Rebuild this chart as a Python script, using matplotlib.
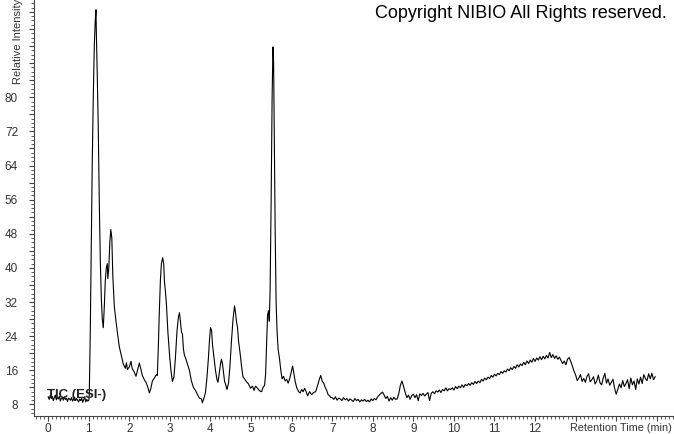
import numpy as np
import matplotlib
matplotlib.use("Agg")
import matplotlib.pyplot as plt
from matplotlib.ticker import MultipleLocator, FixedLocator

plt.rcParams['font.family'] = ['Liberation Sans', 'DejaVu Sans']

# ---- data ----
# baseline before injection peak (0.000 - 0.975 min, step 0.025)
base_start = 0.0
base_step = 0.025
base_vals = [9.8, 9.2, 10.1, 9.4, 9.9, 8.9, 9.6, 10.2, 9.1, 9.7,
             9.3, 9.9, 8.8, 9.5, 9.6, 9.0, 9.8, 9.2, 9.4, 8.7,
             9.5, 9.3, 9.0, 9.6, 8.8, 9.2, 9.7, 8.9, 9.4, 9.0,
             8.6, 9.3, 8.9, 9.5, 8.5, 9.1, 9.8, 8.6, 9.2, 8.8]

# peak region (explicit time / intensity)
peak_t = [1.000, 1.012, 1.037, 1.062, 1.086, 1.111, 1.136, 1.160, 1.178, 1.185,
          1.210, 1.235, 1.260, 1.284, 1.309, 1.333, 1.358, 1.383, 1.407, 1.432,
          1.457, 1.470, 1.494, 1.519, 1.543, 1.568, 1.593, 1.630, 1.671, 1.704,
          1.753, 1.802, 1.850, 1.900, 1.930, 1.950, 2.000, 2.040, 2.070, 2.110,
          2.165, 2.200, 2.247, 2.280, 2.320, 2.370, 2.420, 2.457, 2.494, 2.530,
          2.568, 2.617, 2.667, 2.690, 2.716, 2.740, 2.765, 2.790, 2.822, 2.847,
          2.864, 2.889, 2.914, 2.950, 2.988, 3.025, 3.062, 3.100, 3.136, 3.173,
          3.210, 3.235, 3.259, 3.284, 3.309, 3.333, 3.358, 3.383, 3.432, 3.480,
          3.530, 3.580, 3.630, 3.680, 3.728, 3.778, 3.800, 3.840, 3.876, 3.910,
          3.950, 3.975, 4.000, 4.025, 4.050, 4.086, 4.123, 4.160, 4.185, 4.210,
          4.247, 4.270, 4.296, 4.320, 4.346, 4.370, 4.407, 4.444, 4.480, 4.518,
          4.556, 4.593, 4.617, 4.640, 4.667, 4.690, 4.730, 4.765, 4.800, 4.840,
          4.889, 4.938, 4.988, 5.037, 5.074, 5.111, 5.160, 5.210, 5.260, 5.296,
          5.333, 5.358, 5.383, 5.407, 5.432, 5.449, 5.470, 5.494, 5.519, 5.540,
          5.556, 5.573, 5.593, 5.617, 5.642, 5.667, 5.704, 5.740, 5.765, 5.800,
          5.840, 5.877, 5.914, 5.950, 5.988, 6.025, 6.050, 6.086, 6.123, 6.173,
          6.210, 6.247, 6.284, 6.320, 6.358, 6.395, 6.440, 6.494, 6.540, 6.593,
          6.642, 6.680, 6.716, 6.753, 6.790, 6.827, 6.864, 6.900, 6.938, 6.970]
peak_v = [9.0, 10.0, 25.0, 45.0, 65.0, 80.0, 92.0, 98.0, 100.5, 96.0,
          85.0, 72.0, 55.0, 42.0, 33.0, 28.0, 26.0, 31.0, 37.0, 40.0,
          41.0, 37.5, 40.0, 46.0, 49.0, 47.0, 38.0, 31.0, 27.5, 25.0,
          21.5, 19.5, 17.5, 16.5, 17.8, 16.2, 16.8, 18.1, 16.4, 15.8,
          14.6, 16.0, 17.7, 16.5, 14.8, 13.8, 13.0, 12.0, 10.7, 11.8,
          13.5, 14.2, 15.0, 14.8, 22.0, 30.0, 37.0, 41.0, 42.4, 41.0,
          37.0, 34.5, 31.5, 25.0, 20.0, 16.0, 13.4, 14.5, 19.0, 25.0,
          28.5, 29.5, 27.5, 25.0, 24.5, 21.0, 19.5, 19.0, 17.5, 16.0,
          13.5, 12.0, 11.3, 10.3, 9.5, 9.3, 8.4, 9.5, 10.8, 14.0,
          19.0, 23.0, 26.0, 25.5, 22.0, 19.0, 16.0, 13.8, 13.2, 15.0,
          17.5, 18.6, 17.5, 15.5, 13.5, 12.8, 11.5, 13.0, 17.0, 23.0,
          28.0, 31.1, 29.5, 27.5, 26.0, 23.0, 20.0, 17.0, 14.5, 14.0,
          13.3, 12.8, 11.8, 12.3, 11.3, 12.3, 11.8, 11.2, 11.0, 12.0,
          12.5, 15.0, 22.0, 29.0, 30.0, 27.5, 35.0, 55.0, 80.0, 91.8,
          88.0, 70.0, 50.0, 32.0, 25.0, 21.0, 18.5, 15.5, 14.0, 14.6,
          13.5, 13.9, 13.0, 14.0, 15.5, 17.0, 15.5, 13.5, 12.0, 11.0,
          10.7, 11.5, 11.0, 11.8, 11.0, 10.0, 11.0, 10.3, 10.8, 11.0,
          12.5, 13.8, 14.8, 13.5, 13.0, 12.0, 11.3, 10.3, 10.0, 9.6]

# late region (7.00 - 14.96 min, step 0.04)
tail_start = 7.0
tail_step = 0.04
tail_vals = [9.6, 9.2, 9.8, 9.0, 9.5, 9.3, 8.9, 9.6, 9.1, 9.4,
             8.8, 9.3, 9.0, 8.7, 9.4, 8.9, 9.2, 8.6, 9.1, 8.8,
             9.2, 8.7, 9.0, 8.6, 9.3, 8.9, 9.4, 9.1, 9.8, 10.2,
             10.6, 10.9, 10.2, 9.4, 9.9, 8.8, 9.6, 9.0, 9.7, 9.2,
             9.3, 10.5, 12.5, 13.5, 12.2, 10.8, 9.6, 10.2, 9.2, 10.1,
             10.4, 9.6, 10.3, 8.9, 10.5, 10.1, 10.6, 10.0, 10.4, 10.8,
             8.9, 10.6, 11.0, 10.5, 11.2, 10.9, 11.4, 10.8, 11.5, 11.2,
             11.9, 11.2, 11.7, 11.5, 11.9, 11.4, 12.2, 11.7, 12.3, 11.9,
             12.6, 12.0, 12.7, 12.4, 12.9, 12.5, 13.1, 12.7, 13.4, 12.9,
             13.5, 13.1, 13.9, 13.5, 14.2, 13.8, 14.4, 14.1, 14.8, 14.4,
             15.1, 14.7, 15.3, 15.0, 15.7, 15.3, 15.9, 15.6, 16.3, 15.9,
             16.6, 16.2, 16.9, 16.5, 17.3, 16.8, 17.5, 17.1, 17.9, 17.3,
             18.2, 17.6, 18.4, 17.9, 18.8, 18.1, 18.9, 18.4, 19.2, 18.5,
             19.3, 18.7, 19.5, 18.9, 20.2, 19.0, 19.7, 18.8, 19.4, 18.6,
             19.1, 18.3, 17.6, 18.2, 17.3, 18.6, 19.0, 18.1, 17.0, 15.8,
             14.9, 13.6, 14.2, 15.0, 13.4, 14.1, 13.2, 14.6, 15.2, 13.3,
             13.8, 14.5, 12.8, 13.5, 14.9, 13.1, 12.6, 14.2, 15.3, 13.0,
             14.0, 12.5, 13.2, 13.9, 11.8, 10.4, 11.6, 12.8, 11.9, 13.6,
             12.2, 12.9, 13.8, 11.7, 14.2, 12.6, 13.5, 11.5, 14.0, 12.8,
             14.4, 12.9, 15.0, 14.1, 13.6, 15.2, 14.0, 15.3, 13.8, 14.5]

x_tick_labels = [str(i) for i in range(13)]
y_tick_labels = [str(v) for v in range(8, 81, 8)]

# ---- assemble series ----
t = np.concatenate([base_start + base_step * np.arange(len(base_vals)),
                    np.array(peak_t),
                    tail_start + tail_step * np.arange(len(tail_vals))])
v = np.concatenate([base_vals, peak_v, tail_vals])

# ---- figure ----
W, H = 674, 434
fig = plt.figure(figsize=(W / 100, H / 100), dpi=100)
ax = fig.add_axes([34 / W, 1 - 416 / H, (673 - 34) / W, 416 / H])
ax.plot(t, v, color='black', lw=0.8)

ax.set_xlim(-0.35, 15.4)
ax.set_ylim(5.3, 102.8)
for s in ['top', 'right']:
    ax.spines[s].set_visible(False)
for s in ['left', 'bottom']:
    ax.spines[s].set_color('#444444')
    ax.spines[s].set_linewidth(0.8)

tick_col = '#333333'
ax.xaxis.set_major_locator(FixedLocator(range(16)))
ax.set_xticklabels(x_tick_labels + ['', '', ''])
ax.xaxis.set_minor_locator(MultipleLocator(0.1))
ylocs = list(range(8, 101, 4))
ax.set_yticks(ylocs)
ax.set_yticklabels([str(y) if str(y) in y_tick_labels else '' for y in ylocs])
ax.yaxis.set_minor_locator(MultipleLocator(1))
ax.tick_params(axis='both', which='major', length=3.5, width=0.8, color='#444444',
               labelsize=8.5, labelcolor=tick_col)
ax.tick_params(axis='x', which='major', pad=1.5)
ax.tick_params(axis='y', which='major', pad=8)
ax.tick_params(axis='both', which='minor', length=2, width=0.6, color='#444444')

fig.text(18 / W, 1 - 84 / H, 'Relative Intensity', rotation=90, ha='center',
         va='bottom', fontsize=8, color=tick_col)
fig.text(672 / W, 1 - 428 / H, 'Retention Time (min)', ha='right', va='center',
         fontsize=7.8, color=tick_col)
fig.text(667 / W, 1 - 14 / H, 'Copyright NIBIO All Rights reserved.', ha='right',
         va='center', fontsize=13, color='black')
fig.text(47 / W, 1 - 395 / H, 'TIC (ESI-)', ha='left',
         va='center', fontsize=9.5, color='#222222', fontweight='bold')

fig.savefig('out.png', dpi=100)
